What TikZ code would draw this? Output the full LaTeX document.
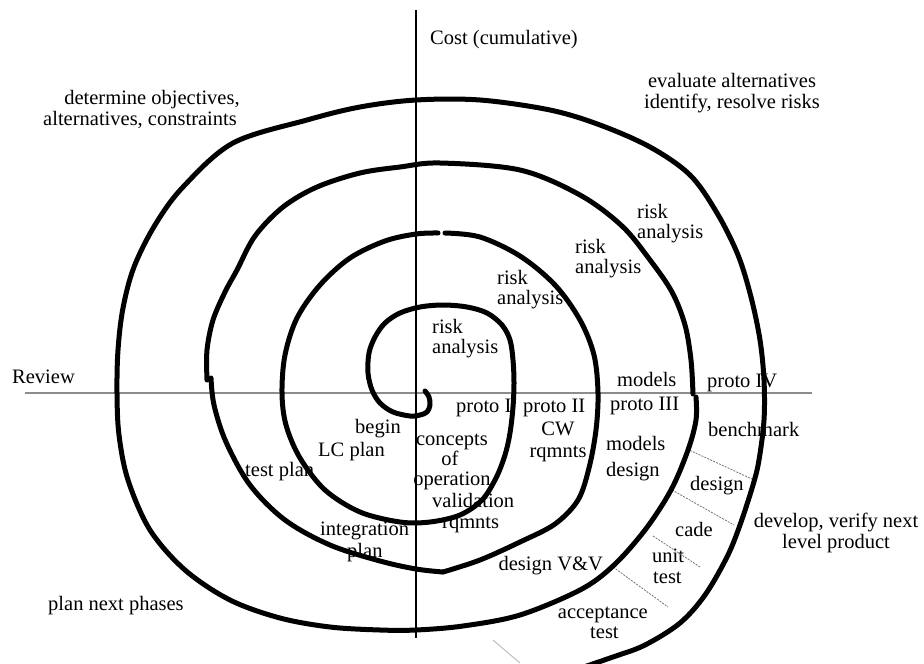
\documentclass[tikz,border=0pt]{standalone}
\usepackage{fontspec}
\setmainfont{Liberation Serif}
\begin{document}
\begin{tikzpicture}[x=1pt,y=-1pt,
  lbl/.style={inner sep=0pt, font=\fontsize{20.5}{21}\selectfont, anchor=base west},
  lblc/.style={lbl, anchor=base},
  lble/.style={lbl, anchor=base east},
  spiral/.style={line width=5pt, line cap=round, line join=round},
  costaxis/.style={black, line width=1.2pt},
  reviewaxis/.style={black!45, line width=2pt},
  phase/.style={black!55, line width=0.8pt, dash pattern=on 2pt off 1.2pt}]
\useasboundingbox (0,0) rectangle (924,664);
\clip (0,0) rectangle (924,664);

% axes
\coordinate (ctop) at (416,10);
\coordinate (cbot) at (416,638);
\coordinate (rleft) at (25,393);
\coordinate (rright) at (812,393);
\draw[reviewaxis] (rleft) -- (rright);
\draw[costaxis] (ctop) -- (cbot);

% quadrant captions
\node[lbl]  (cost)   at (430,44)  {Cost (cumulative)};
\node[lblc] (eva)    at (732,87)  {evaluate alternatives};
\node[lblc] (evb)    at (732,108) {identify, resolve risks};
\node[lblc] (deta)   at (152,104) {determine objectives,};
\node[lblc] (detb)   at (140,125) {alternatives, constraints};
\node[lbl]  (review) at (12,383)  {Review};
\node[lbl]  (plann)  at (48,610)  {plan next phases};
\node[lblc] (deva)   at (836,527) {develop, verify next};
\node[lblc] (devb)   at (836,548) {level product};

% risk analyses
\node[lbl] (r1a) at (432,333) {risk};
\node[lbl] (r1b) at (432,353) {analysis};
\node[lbl] (r2a) at (497,284) {risk};
\node[lbl] (r2b) at (497,304) {analysis};
\node[lbl] (r3a) at (575,253) {risk};
\node[lbl] (r3b) at (575,273) {analysis};
\node[lbl] (r4a) at (637,218) {risk};
\node[lbl] (r4b) at (637,238) {analysis};

% prototypes
\node[lbl] (p1)  at (456,412) {proto I};
\node[lbl] (p2)  at (523,412) {proto II};
\node[lbl] (m1)  at (617,386) {models};
\node[lbl] (p3)  at (610,410) {proto III};
\node[lbl] (p4)  at (707,387) {proto IV};

% lower right
\node[lblc] (cw)   at (558,435) {CW};
\node[lblc] (rq1)  at (558,457) {rqmnts};
\node[lbl]  (m2)   at (606,450) {models};
\node[lbl]  (d1)   at (606,476) {design};
\node[lbl]  (bm)   at (708,436) {benchmark};
\node[lbl]  (d2)   at (690,490) {design};
\node[lbl]  (cade) at (675,536) {cade};
\node[lbl]  (ua)   at (652,562) {unit};
\node[lbl]  (ub)   at (653,583) {test};
\node[lble] (aca)  at (648,618) {acceptance};
\node[lbl]  (acb)  at (590,638) {test};
\node[lble] (dvv)  at (603,570) {design V\&V};
\node[lbl]  (va)   at (432,507) {validation};
\node[lbl]  (vb)   at (442,528) {rqmnts};

% lower left
\node[lblc] (coa) at (452,445) {concepts};
\node[lblc] (cob) at (450,465) {of};
\node[lblc] (coc) at (452,485) {operation};
\node[lbl]  (bga) at (355,433) {begin};
\node[lbl]  (bgb) at (318,456) {LC plan};
\node[lbl]  (tp)  at (245,476) {test plan};
\node[lbl]  (ina) at (320,535) {integration};
\node[lbl]  (inb) at (347,557) {plan};

% phase separators in the outer band
\draw[phase] (687,449) -- (752,479);
\draw[phase] (672,490) -- (734,525);
\draw[phase] (653,536) -- (700,567);
\draw[phase] (613,567) -- (668,607);
\draw[black!25, line width=1pt] (493,640) -- (520,663);

% the spiral, drawn in strokes
\draw[spiral] plot[smooth, tension=0.55] coordinates {
  (425,391) (429,397) (430,405) (427,412) (420,415) (410,416) (393,412)
  (380,403) (372,390) (368,373) (369,353) (375,337) (385,323) (400,313)
  (420,307) (443,305) (467,307) (487,313) (502,325) (510,340) (513,360)
  (514,383) (513,407) (510,433) (505,455) (496,478) (482,500) (460,515)
  (430,522) (400,522) (360,512) (325,490) (300,458) (286,425) (282,393)
  (285,355) (297,318) (320,285) (350,258) (385,241) (416,234) (438,233)};
\draw[spiral] plot[smooth, tension=0.55] coordinates {
  (445,233) (480,237) (520,256) (555,285) (580,320) (594,355) (598,393)
  (596,430) (589,468) (578,500) (555,524) (520,542) (480,560) (443,572)};
\draw[spiral] plot[smooth, tension=0.55] coordinates {
  (443,572) (416,569) (380,561) (330,545) (285,520) (250,485) (226,442)
  (214,405) (211,378)};
\draw[spiral] plot[smooth, tension=0.55] coordinates {
  (207,380) (207,350) (213,320) (225,292) (237,270) (255,236) (283,207)
  (317,187) (360,173) (400,167) (440,163) (520,170) (580,195) (622,226)
  (650,260) (672,292) (685,325) (691,360) (693,394)};
\draw[spiral] plot[smooth, tension=0.55] coordinates {
  (696,397) (696,420) (688,450) (671,490) (645,530) (613,566) (580,590)
  (520,615) (463,626) (416,630) (380,630) (330,627) (280,618) (230,600)
  (185,570) (150,530) (128,480) (119,435) (117,393) (118,350) (123,308)
  (134,267) (155,225) (183,187) (233,143) (307,120) (360,107) (416,100)
  (480,100) (550,110) (600,125) (650,147) (690,175) (717,213) (738,255)
  (751,297) (760,340) (764,380) (764,420) (759,460) (753,485) (740,525)
  (727,557) (705,595) (680,623) (645,645) (613,657) (560,675)};
\end{tikzpicture}
\end{document}
